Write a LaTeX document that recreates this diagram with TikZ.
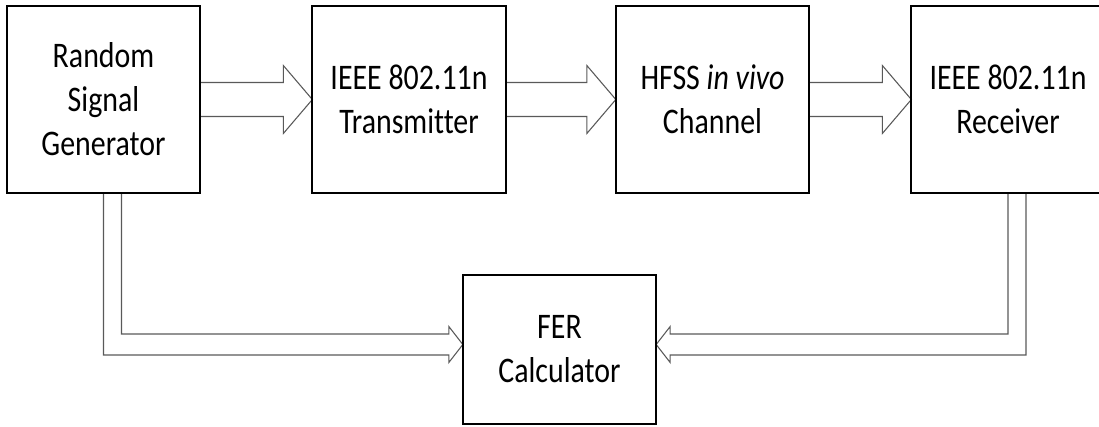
\documentclass[tikz,border=0pt]{standalone}
\usepackage{fontspec}
\setmainfont{Carlito}[FakeStretch=0.83,Ligatures=CommonOff]
\usetikzlibrary{calc}
\begin{document}
\begin{tikzpicture}[x=0.75pt,y=-0.75pt,
  blk/.style={draw=black,line width=1.5pt,minimum width=145pt,minimum height=140.25pt,
    inner sep=0pt,outer sep=0pt,align=center,font=\fontsize{27pt}{33pt}\selectfont},
  arr/.style={draw=black!65,line width=0.8pt,line join=miter}]
\useasboundingbox (0,0) rectangle (1099,426);
\clip (0,0) rectangle (1099,426);
\node[blk] (b1) at (103.5,99.5) {Random\\Signal\\Generator};
\node[blk] (b2) at (409,99.5) {IEEE 802.11n\\Transmitter};
\node[blk] (b3) at (712.5,99.5) {HFSS \textit{in vivo}\\Channel};
\node[blk] (b4) at (1008,99.5) {IEEE 802.11n\\Receiver};
\node[blk,minimum height=111.75pt] (fer) at (559.5,349.5) {FER\\Calculator};
% horizontal block arrows
\foreach \s/\t in {b1/b2,b2/b3,b3/b4}{
  \draw[arr,fill=white] ($(\s.east)+(0,-17)$) -- ($(\t.west)+(-29,-17)$) -- ($(\t.west)+(-29,-34)$)
    -- (\t.west) -- ($(\t.west)+(-29,34)$) -- ($(\t.west)+(-29,17)$) -- ($(\s.east)+(0,17)$);
}
% lower arrows
\coordinate (tipL) at ($(fer.west)+(0,-5)$);
\coordinate (tipR) at ($(fer.east)+(0,-5)$);
\coordinate (hL1) at ($(tipL)+(0,10.5)$);
\coordinate (hL2) at ($(tipL)+(0,-10.5)$);
\coordinate (hR1) at ($(tipR)+(0,10.5)$);
\coordinate (hR2) at ($(tipR)+(0,-10.5)$);
\coordinate (sLo) at (b1.south);
\coordinate (sLi) at ($(b1.south)+(18,0)$);
\coordinate (sRi) at (b4.south);
\coordinate (sRo) at ($(b4.south)+(18,0)$);
\draw[arr] (sLo) -- (sLo |- hL1) -- ($(tipL)+(-14,10.5)$) -- ($(tipL)+(-14,18)$) -- (tipL)
  -- ($(tipL)+(-14,-18)$) -- ($(tipL)+(-14,-10.5)$) -- (sLi |- hL2) -- (sLi);
\draw[arr] (sRo) -- (sRo |- hR1) -- ($(tipR)+(14,10.5)$) -- ($(tipR)+(14,18)$) -- (tipR)
  -- ($(tipR)+(14,-18)$) -- ($(tipR)+(14,-10.5)$) -- (sRi |- hR2) -- (sRi);
% redraw box borders on top
\foreach \n in {b1,b2,b3,b4,fer}{
  \draw[line width=1.5pt] (\n.south west) rectangle (\n.north east);
}
\end{tikzpicture}
\end{document}
